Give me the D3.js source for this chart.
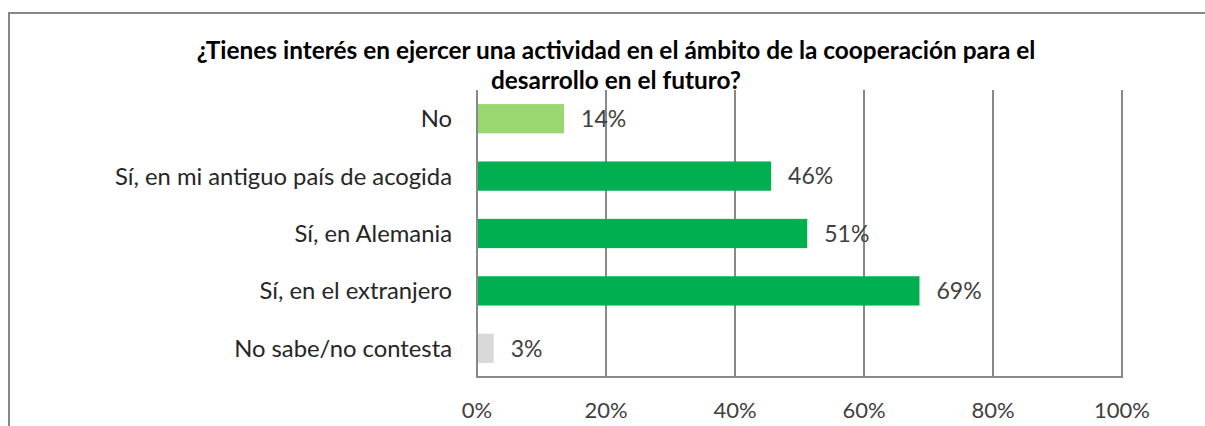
<!DOCTYPE html>
<html><head><meta charset="utf-8">
<script src="https://cdn.jsdelivr.net/npm/d3@7"></script>
<style>body{margin:0;background:#fff;} svg{display:block;}</style>
</head><body>
<svg id="c" width="1205" height="426"></svg>
<script>
const categories = ["No", "Sí, en mi antiguo país de acogida", "Sí, en Alemania", "Sí, en el extranjero", "No sabe/no contesta"];
const values = [13.5, 45.6, 51.2, 68.6, 2.6];
const valueLabels = ["14%", "46%", "51%", "69%", "3%"];
const barColors = ["#9bd770", "#00b050", "#00b050", "#00b050", "#d9d9d9"];
const tickValues = [0, 20, 40, 60, 80, 100];
const titleLines = ["¿Tienes interés en ejercer una actividad en el ámbito de la cooperación para el", "desarrollo en el futuro?"];

const FONT = "Lato";
const svg = d3.select("#c");
svg.append("rect").attr("x", 9).attr("y", 13).attr("width", 1220).attr("height", 440)
  .attr("fill", "#fff").attr("stroke", "#878787").attr("stroke-width", 2);

const pLeft = 477, pRight = 1122, pTop = 90, pBottom = 377;
const x = d3.scaleLinear().domain([0, 100]).range([pLeft, pRight]);
const y = d3.scaleBand().domain(categories).range([pTop, pBottom]).paddingInner(0.49).paddingOuter(0.245);

const g = svg.append("g");
g.selectAll("line.grid").data(tickValues).join("line")
  .attr("x1", d => x(d)).attr("x2", d => x(d)).attr("y1", pTop).attr("y2", pBottom)
  .attr("stroke", "#898989").attr("stroke-width", 2);
g.append("line").attr("x1", pLeft - 1).attr("x2", pRight + 1).attr("y1", pBottom).attr("y2", pBottom)
  .attr("stroke", "#898989").attr("stroke-width", 2);

g.selectAll("rect.bar").data(categories).join("rect")
  .attr("x", x(0) + 1).attr("y", d => y(d))
  .attr("width", (d, i) => x(values[i]) - x(0) - 1).attr("height", y.bandwidth())
  .attr("fill", (d, i) => barColors[i]);

g.selectAll("text.val").data(categories).join("text")
  .attr("x", (d, i) => x(values[i]) + 17).attr("y", d => y(d) + y.bandwidth() / 2)
  .attr("dy", "0.36em").attr("font-family", FONT).attr("font-size", 23).attr("fill", "#404040")
  .text((d, i) => valueLabels[i]);

g.selectAll("text.cat").data(categories).join("text")
  .attr("x", pLeft - 25).attr("y", d => y(d) + y.bandwidth() / 2)
  .attr("dy", "0.36em").attr("text-anchor", "end").attr("font-family", FONT).attr("font-size", 23.8).attr("fill", "#262626")
  .text(d => d);

g.selectAll("text.tick").data(tickValues).join("text")
  .attr("x", d => x(d)).attr("y", 418).attr("text-anchor", "middle")
  .attr("font-family", FONT).attr("font-size", 22).attr("fill", "#404040")
  .text(d => d + "%");

svg.selectAll("text.title").data(titleLines).join("text")
  .attr("x", 616).attr("y", (d, i) => 59 + i * 30).attr("text-anchor", "middle")
  .attr("font-family", FONT).attr("font-weight", "bold").attr("font-size", 24.4).attr("fill", "#000")
  .text(d => d);
</script>
</body></html>
